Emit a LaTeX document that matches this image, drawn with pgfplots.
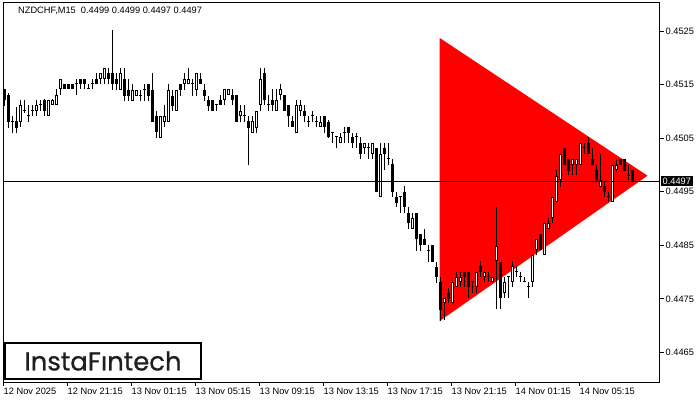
\documentclass[border=0pt]{standalone}
\usepackage{pgfplots}
\pgfplotsset{compat=1.18}
\usepackage{pgfplotstable}
\usepackage{fontspec}
\setmainfont{Liberation Sans}
\newfontfamily\logofont[FakeBold=0.7]{Poppins}

\pgfplotstableread{
k o h l c
0 0.45142 0.45142 0.45110 0.45121
1 0.45131 0.45134 0.45069 0.45080
2 0.45080 0.45091 0.45060 0.45080
3 0.45082 0.45108 0.45060 0.45069
4 0.45080 0.45121 0.45071 0.45112
5 0.45101 0.45121 0.45097 0.45101
6 0.45091 0.45112 0.45080 0.45091
7 0.45101 0.45112 0.45091 0.45101
8 0.45101 0.45121 0.45091 0.45112
9 0.45112 0.45121 0.45101 0.45112
10 0.45121 0.45123 0.45091 0.45101
11 0.45091 0.45121 0.45091 0.45121
12 0.45112 0.45123 0.45112 0.45121
13 0.45112 0.45142 0.45112 0.45131
14 0.45142 0.45160 0.45131 0.45160
15 0.45151 0.45151 0.45142 0.45142
16 0.45151 0.45151 0.45142 0.45142
17 0.45151 0.45151 0.45142 0.45142
18 0.45151 0.45160 0.45131 0.45151
19 0.45160 0.45160 0.45142 0.45151
20 0.45160 0.45160 0.45142 0.45151
21 0.45142 0.45151 0.45142 0.45142
22 0.45151 0.45160 0.45142 0.45151
23 0.45160 0.45172 0.45151 0.45151
24 0.45160 0.45172 0.45151 0.45172
25 0.45160 0.45181 0.45151 0.45181
26 0.45172 0.45181 0.45151 0.45160
27 0.45172 0.45252 0.45140 0.45151
28 0.45160 0.45172 0.45140 0.45151
29 0.45140 0.45181 0.45140 0.45172
30 0.45160 0.45181 0.45119 0.45129
31 0.45140 0.45160 0.45119 0.45129
32 0.45119 0.45151 0.45119 0.45140
33 0.45129 0.45140 0.45129 0.45140
34 0.45129 0.45140 0.45119 0.45129
35 0.45140 0.45151 0.45119 0.45140
36 0.45151 0.45151 0.45119 0.45129
37 0.45140 0.45172 0.45080 0.45080
38 0.45091 0.45101 0.45050 0.45062
39 0.45050 0.45091 0.45050 0.45091
40 0.45080 0.45112 0.45071 0.45091
41 0.45080 0.45151 0.45080 0.45140
42 0.45129 0.45140 0.45101 0.45110
43 0.45101 0.45140 0.45101 0.45140
44 0.45151 0.45151 0.45129 0.45140
45 0.45151 0.45172 0.45140 0.45160
46 0.45151 0.45181 0.45151 0.45160
47 0.45151 0.45160 0.45129 0.45151
48 0.45140 0.45172 0.45129 0.45172
49 0.45160 0.45172 0.45151 0.45151
50 0.45140 0.45151 0.45119 0.45129
51 0.45121 0.45129 0.45101 0.45110
52 0.45121 0.45121 0.45101 0.45101
53 0.45112 0.45112 0.45101 0.45112
54 0.45121 0.45131 0.45112 0.45112
55 0.45121 0.45142 0.45112 0.45142
56 0.45131 0.45142 0.45131 0.45142
57 0.45131 0.45142 0.45112 0.45121
58 0.45131 0.45131 0.45080 0.45080
59 0.45091 0.45112 0.45080 0.45101
60 0.45091 0.45112 0.45080 0.45091
61 0.45082 0.45091 0.45000 0.45069
62 0.45060 0.45091 0.45060 0.45082
63 0.45069 0.45101 0.45060 0.45101
64 0.45112 0.45181 0.45101 0.45160
65 0.45172 0.45181 0.45112 0.45121
66 0.45112 0.45131 0.45101 0.45112
67 0.45121 0.45142 0.45101 0.45112
68 0.45101 0.45142 0.45101 0.45121
69 0.45131 0.45151 0.45121 0.45142
70 0.45131 0.45131 0.45101 0.45101
71 0.45112 0.45112 0.45071 0.45091
72 0.45082 0.45091 0.45071 0.45071
73 0.45060 0.45121 0.45060 0.45112
74 0.45101 0.45121 0.45091 0.45112
75 0.45101 0.45112 0.45080 0.45091
76 0.45080 0.45091 0.45071 0.45080
77 0.45091 0.45101 0.45080 0.45091
78 0.45080 0.45091 0.45071 0.45080
79 0.45071 0.45091 0.45071 0.45080
80 0.45091 0.45091 0.45060 0.45071
81 0.45080 0.45084 0.45050 0.45052
82 0.45060 0.45060 0.45041 0.45060
83 0.45052 0.45052 0.45032 0.45052
84 0.45041 0.45060 0.45041 0.45052
85 0.45060 0.45071 0.45041 0.45060
86 0.45071 0.45071 0.45041 0.45060
87 0.45052 0.45060 0.45032 0.45041
88 0.45052 0.45060 0.45032 0.45052
89 0.45041 0.45052 0.45011 0.45021
90 0.45032 0.45041 0.45021 0.45041
91 0.45032 0.45041 0.45011 0.45032
92 0.45021 0.45041 0.45011 0.45041
93 0.45032 0.45032 0.44950 0.44950
94 0.44940 0.45041 0.44940 0.45021
95 0.45032 0.45041 0.44991 0.45021
96 0.45011 0.45041 0.45000 0.45011
97 0.45002 0.45011 0.44940 0.44950
98 0.44940 0.44950 0.44922 0.44929
99 0.44940 0.44940 0.44910 0.44940
100 0.44950 0.44961 0.44910 0.44922
101 0.44910 0.44922 0.44881 0.44892
102 0.44881 0.44910 0.44881 0.44901
103 0.44910 0.44910 0.44840 0.44862
104 0.44871 0.44871 0.44840 0.44851
105 0.44862 0.44881 0.44851 0.44851
106 0.44840 0.44851 0.44819 0.44840
107 0.44851 0.44851 0.44819 0.44819
108 0.44810 0.44819 0.44780 0.44791
109 0.44782 0.44791 0.44709 0.44729
110 0.44743 0.44752 0.44711 0.44752
111 0.44761 0.44770 0.44743 0.44750
112 0.44743 0.44782 0.44743 0.44782
113 0.44772 0.44800 0.44772 0.44791
114 0.44782 0.44800 0.44772 0.44791
115 0.44800 0.44800 0.44772 0.44791
116 0.44800 0.44800 0.44752 0.44772
117 0.44782 0.44782 0.44761 0.44782
118 0.44772 0.44800 0.44761 0.44800
119 0.44812 0.44821 0.44791 0.44800
120 0.44791 0.44800 0.44782 0.44800
121 0.44791 0.44800 0.44782 0.44791
122 0.44782 0.44791 0.44782 0.44791
123 0.44821 0.44922 0.44731 0.44849
124 0.44819 0.44819 0.44731 0.44752
125 0.44761 0.44791 0.44752 0.44782
126 0.44791 0.44791 0.44752 0.44791
127 0.44782 0.44821 0.44772 0.44812
128 0.44800 0.44812 0.44791 0.44800
129 0.44791 0.44800 0.44782 0.44791
130 0.44782 0.44791 0.44782 0.44782
131 0.44772 0.44782 0.44752 0.44772
132 0.44782 0.44832 0.44772 0.44832
133 0.44841 0.44862 0.44832 0.44862
134 0.44871 0.44871 0.44841 0.44841
135 0.44832 0.44892 0.44832 0.44892
136 0.44881 0.44901 0.44881 0.44892
137 0.44901 0.44940 0.44892 0.44940
138 0.44931 0.44991 0.44931 0.44979
139 0.44972 0.45021 0.44959 0.45021
140 0.45032 0.45032 0.45000 0.45000
141 0.45011 0.45011 0.44981 0.44989
142 0.45000 0.45011 0.44981 0.45011
143 0.45000 0.45011 0.44981 0.45011
144 0.45000 0.45041 0.45000 0.45041
145 0.45032 0.45041 0.45021 0.45032
146 0.45041 0.45052 0.45021 0.45021
147 0.45011 0.45032 0.45000 0.45000
148 0.44991 0.45000 0.44968 0.44972
149 0.44959 0.45021 0.44959 0.44972
150 0.44961 0.44968 0.44940 0.44950
151 0.44940 0.44950 0.44931 0.44940
152 0.44931 0.45000 0.44931 0.45000
153 0.44991 0.45011 0.44987 0.45000
154 0.45011 0.45011 0.45000 0.45000
155 0.45011 0.45011 0.44989 0.44989
156 0.44979 0.45000 0.44972 0.44979
157 0.44990 0.44990 0.44970 0.44970
}\candles

\begin{document}
\begin{tikzpicture}
\path[use as bounding box] (0,0) rectangle (700bp,400bp);
\begin{axis}[
  at={(3.5bp,17.5bp)}, anchor=south west,
  scale only axis, width=656bp, height=380bp,
  xmin=-0.25, xmax=163.75, ymin=0.445942, ymax=0.453032,
  axis line style={black, line width=1bp},
  tick style={black, line width=1bp},
  major tick length=4bp,
  tick align=outside,
  xtick pos=bottom, ytick pos=right,
  yticklabel pos=right,
  xtick={-0.25,15.75,31.75,47.75,63.75,79.75,95.75,111.75,127.75,143.75},
  xticklabels={12 Nov 2025,12 Nov 21:15,13 Nov 01:15,13 Nov 05:15,13 Nov 09:15,13 Nov 13:15,13 Nov 17:15,13 Nov 21:15,14 Nov 01:15,14 Nov 05:15},
  ytick={0.4465,0.4475,0.4485,0.4495,0.4505,0.4515,0.4525},
  yticklabels={0.4465,0.4475,0.4485,0.4495,0.4505,0.4515,0.4525},
  tick label style={font=\fontsize{9.3}{10}\selectfont, black},
  xticklabel style={anchor=north west, inner sep=0pt, yshift=-1bp},
  yticklabel style={anchor=west, inner sep=0pt, xshift=2bp},
  extra y ticks={0.4497},
  extra y tick labels={0.4497},
  extra y tick style={major tick length=0pt, yticklabel style={fill=black, text=white, inner xsep=2bp, inner ysep=1.5bp, xshift=-1bp}},
  clip=true,
]
% triangle pattern
\addplot[fill=red, draw=none, forget plot] coordinates {(108.8,0.45237) (108.8,0.44709) (160.75,0.44980)} -- cycle;
% wicks
\addplot[draw=none, mark=none, forget plot,
  error bars/.cd, y dir=plus, y explicit, error mark=none,
  error bar style={draw=black, line width=1bp}]
  table[x=k, y=l, y error expr=\thisrow{h}-\thisrow{l}] {\candles};
% bodies
\addplot[draw=none, mark=none, forget plot,
  error bars/.cd, y dir=plus, y explicit, error mark=none,
  error bar style={draw=black, line width=3bp}]
  table[x=k, y expr={min(\thisrow{o},\thisrow{c})}, y error expr={max(abs(\thisrow{c}-\thisrow{o}),0.0000187)}] {\candles};
% white interiors of bullish bodies
\addplot[draw=none, mark=none, forget plot,
  error bars/.cd, y dir=plus, y explicit, error mark=none,
  error bar style={draw=white, line width=1bp}]
  table[x=k, y expr={(\thisrow{c}-\thisrow{o}>0.00004) ? \thisrow{o}+0.0000187 : nan}, y error expr={\thisrow{c}-\thisrow{o}-0.0000374}] {\candles};
% bid line
\addplot[black, line width=1bp, forget plot] coordinates {(-0.25,0.4497) (163.75,0.4497)};
\end{axis}
\node[anchor=west, inner sep=0pt, font=\fontsize{9.3}{10}\selectfont] at (18bp,389.5bp) {NZDCHF,M15\ \ 0.4499 0.4499 0.4497 0.4497};
\node[draw=black, line width=2bp, fill=white, minimum width=196bp, minimum height=36bp, inner sep=0pt, anchor=north west, text=black!88]
  at (4bp,58bp) {\logofont\fontsize{26}{26}\selectfont InstaFıntech};
\end{tikzpicture}
\end{document}
